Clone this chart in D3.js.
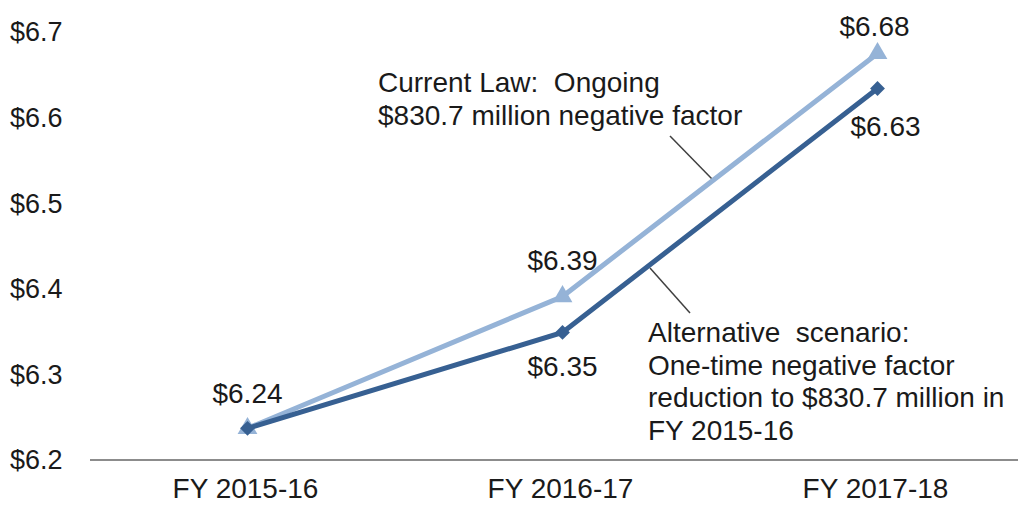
<!DOCTYPE html>
<html><head><meta charset="utf-8">
<script src="https://cdn.jsdelivr.net/npm/d3@7"></script>
<style>body{margin:0;background:#fff}svg{display:block}text{font-family:"Liberation Sans",Arial,sans-serif;fill:#1a1a1a}</style>
</head><body><svg id="c" width="1018" height="506"></svg>
<script>
const categories = ["FY 2015-16", "FY 2016-17", "FY 2017-18"];
const currentLaw = [6.237, 6.391, 6.675];
const alternative = [6.237, 6.349, 6.634];
const currentLabels = ["", "$6.39", "$6.68"];
const altLabels = ["$6.24", "$6.35", "$6.63"];
const yTicks = [6.2, 6.3, 6.4, 6.5, 6.6, 6.7];

const FS = 28;
const svg = d3.select("#c");
const x = d3.scaleBand().domain(categories).range([90, 1035]);
const y = d3.scaleLinear().domain([6.2, 6.7]).range([460, 32]);
const cx = d => x(d) + x.bandwidth() / 2;

// y tick labels
svg.append("g").selectAll("text").data(yTicks).join("text")
  .attr("x", 10).attr("y", d => y(d)).attr("dy", "0.35em")
  .attr("font-size", 27).text(d => "$" + d.toFixed(1));

// x axis
svg.append("line").attr("x1", 90).attr("x2", 1018).attr("y1", 460).attr("y2", 460)
  .attr("stroke", "#8c8c8c").attr("stroke-width", 2);
svg.append("g").selectAll("text").data(categories).join("text")
  .attr("x", d => cx(d) - 2).attr("y", 498).attr("text-anchor", "middle")
  .attr("font-size", FS).text(d => d);

const line = d3.line().x((d, i) => cx(categories[i])).y(d => y(d));

// leader lines
svg.append("line").attr("x1", 670).attr("y1", 136).attr("x2", 712).attr("y2", 179)
  .attr("stroke", "#404040").attr("stroke-width", 1.5);
svg.append("line").attr("x1", 650).attr("y1", 268).attr("x2", 690).attr("y2", 313)
  .attr("stroke", "#404040").attr("stroke-width", 1.5);

// current law series
svg.append("path").datum(currentLaw).attr("d", line).attr("fill", "none")
  .attr("stroke", "#95b3d7").attr("stroke-width", 5);
svg.append("g").selectAll("path").data(currentLaw).join("path")
  .attr("transform", (d, i) => `translate(${cx(categories[i])},${y(d)})`)
  .attr("d", d3.symbol(d3.symbolTriangle, 170)).attr("fill", "#95b3d7");

// alternative series
svg.append("path").datum(alternative).attr("d", line).attr("fill", "none")
  .attr("stroke", "#376092").attr("stroke-width", 5);
svg.append("g").selectAll("path").data(alternative).join("path")
  .attr("transform", (d, i) => `translate(${cx(categories[i])},${y(d)}) rotate(45)`)
  .attr("d", d3.symbol(d3.symbolSquare, 110)).attr("fill", "#376092");

// data labels
const lbl = [
  {t: currentLabels[1], x: cx(categories[1]), y: y(currentLaw[1]) - 27},
  {t: currentLabels[2], x: cx(categories[2]) - 3, y: y(currentLaw[2]) - 17},
  {t: altLabels[0], x: cx(categories[0]), y: y(alternative[0]) - 25},
  {t: altLabels[1], x: cx(categories[1]), y: y(alternative[1]) + 44},
  {t: altLabels[2], x: cx(categories[2]) + 8, y: y(alternative[2]) + 48}
];
svg.append("g").selectAll("text").data(lbl).join("text")
  .attr("x", d => d.x).attr("y", d => d.y).attr("text-anchor", "middle")
  .attr("font-size", FS).text(d => d.t);

// annotations
const ann1 = ["Current Law:  Ongoing", "$830.7 million negative factor"];
svg.append("g").selectAll("text").data(ann1).join("text")
  .attr("x", 378).attr("y", (d, i) => 92 + i * 33).attr("font-size", FS)
  .style("white-space", "pre").text(d => d);
const ann2 = ["Alternative  scenario:", "One-time negative factor", "reduction to $830.7 million in", "FY 2015-16"];
svg.append("g").selectAll("text").data(ann2).join("text")
  .attr("x", 648).attr("y", (d, i) => 342 + i * 32.7).attr("font-size", FS)
  .style("white-space", "pre").text(d => d);
</script></body></html>
